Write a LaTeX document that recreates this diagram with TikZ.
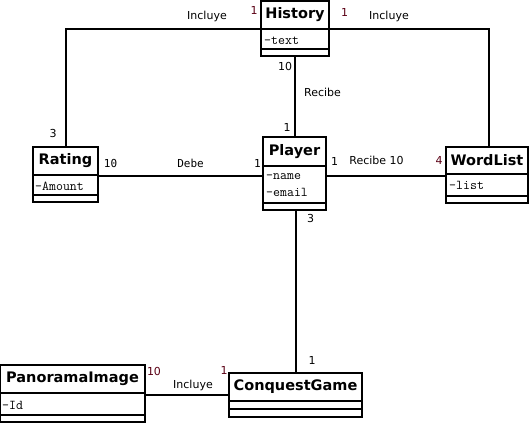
\documentclass[tikz,border=0pt]{standalone}
\usepackage{fontspec}
\setmainfont{DejaVu Sans}
\newfontfamily\titlefont{DejaVu Sans}
\newfontfamily\monofont{DejaVu Sans Mono}
\definecolor{mult}{RGB}{90,0,20}
\tikzset{
  cls/.style={draw, line width=2pt, inner sep=0pt, outer sep=0pt, anchor=north west},
  ttl/.style={font=\titlefont\bfseries\fontsize{14.5}{16}\selectfont, inner sep=0pt},
  attr/.style={font=\ttfamily\fontsize{13.5}{15}\selectfont, anchor=west, inner sep=0pt},
  lbl/.style={font=\fontsize{11}{12}\selectfont, inner sep=0pt},
  mlbl/.style={lbl, text=mult},
  dlbl/.style={font=\monofont\fontsize{11}{12}\selectfont, inner sep=0pt},
  conn/.style={line width=2pt},
  sep/.style={line width=2pt}
}
\begin{document}
\begin{tikzpicture}[x=1pt,y=-1pt]
\useasboundingbox (0,0) rectangle (532,424);

% class boxes
\node[cls, minimum width=68pt, minimum height=55pt] (history) at (261,1) {};
\node[cls, minimum width=65pt, minimum height=55pt] (rating) at (33,147) {};
\node[cls, minimum width=63pt, minimum height=73pt] (player) at (263,137) {};
\node[cls, minimum width=82pt, minimum height=56pt] (wordlist) at (446,147) {};
\node[cls, minimum width=145pt, minimum height=57pt] (panorama) at (0,365) {};
\node[cls, minimum width=133pt, minimum height=44pt] (conquest) at (229,373) {};

% separators
\draw[sep] ([yshift=-28pt]history.north west) -- ([yshift=-28pt]history.north east);
\draw[sep] ([yshift=-48pt]history.north west) -- ([yshift=-48pt]history.north east);
\draw[sep] ([yshift=-28pt]rating.north west) -- ([yshift=-28pt]rating.north east);
\draw[sep] ([yshift=-48pt]rating.north west) -- ([yshift=-48pt]rating.north east);
\draw[sep] ([yshift=-29pt]player.north west) -- ([yshift=-29pt]player.north east);
\draw[sep] ([yshift=-66pt]player.north west) -- ([yshift=-66pt]player.north east);
\draw[sep] ([yshift=-27pt]wordlist.north west) -- ([yshift=-27pt]wordlist.north east);
\draw[sep] ([yshift=-49pt]wordlist.north west) -- ([yshift=-49pt]wordlist.north east);
\draw[sep] ([yshift=-28pt]panorama.north west) -- ([yshift=-28pt]panorama.north east);
\draw[sep] ([yshift=-50pt]panorama.north west) -- ([yshift=-50pt]panorama.north east);
\draw[sep] ([yshift=-28pt]conquest.north west) -- ([yshift=-28pt]conquest.north east);
\draw[sep] ([yshift=-36pt]conquest.north west) -- ([yshift=-36pt]conquest.north east);

% titles
\node[ttl] (thistory) at (295,15) {History};
\node[ttl] (trating) at (65.5,161) {Rating};
\node[ttl] (tplayer) at (294.5,151.5) {Player};
\node[ttl] (twordlist) at (487,160.5) {WordList};
\node[ttl] (tpanorama) at (72.5,379) {PanoramaImage};
\node[ttl] (tconquest) at (295.5,387) {ConquestGame};

% attributes
\node[attr] (atext) at (264,41) {-text};
\node[attr] (aamount) at (35,186) {-Amount};
\node[attr] (aname) at (266,177) {-name};
\node[attr] (aemail) at (266,192.5) {-email};
\node[attr] (alist) at (449,185) {-list};
\node[attr] (aid) at (2,405) {-Id};

% connectors
\coordinate (hl) at (history.west |- 0,29);
\coordinate (hr) at (history.east |- 0,29);
\coordinate (rn) at (rating.north -| 66,0);
\coordinate (wn) at (wordlist.north -| 489,0);
\draw[conn] (hl) -| (rn);
\draw[conn] (hr) -| (wn);
\draw[conn] (history.south) -- (player.north -| history.south);
\draw[conn] (player.west |- 0,176) -- (rating.east |- 0,176);
\draw[conn] (player.east |- 0,176) -- (wordlist.west |- 0,176);
\coordinate (pb) at (player.south -| 296,0);
\draw[conn] (pb) -- (pb |- conquest.north);
\draw[conn] (panorama.east |- 0,395) -- (conquest.west |- 0,395);

% labels
\node[lbl] (l1) at (207,16.5) {Incluye};
\node[mlbl] (l2) at (254,10.5) {1};
\node[mlbl] (l3) at (344.5,12) {1};
\node[lbl] (l4) at (389,16.5) {Incluye};
\node[lbl] (l5) at (285,66) {10};
\node[lbl] (l6) at (322.5,92.5) {Recibe};
\node[lbl] (l7) at (287,127.5) {1};
\node[lbl] (l8) at (53,133.5) {3};
\node[dlbl] (l9) at (110.5,163) {10};
\node[dlbl] (l10) at (190.5,163) {Debe};
\node[dlbl] (l11) at (257.5,163) {1};
\node[lbl] (l12) at (334.5,161.5) {1};
\node[lbl] (l13) at (376.5,160) {Recibe 10};
\node[mlbl] (l14) at (439,160.5) {4};
\node[lbl] (l15) at (310.5,218) {3};
\node[lbl] (l16) at (312,360) {1};
\node[mlbl] (l17) at (154,371) {10};
\node[mlbl] (l18) at (224,370) {1};
\node[lbl] (l19) at (193,385) {Incluye};
\end{tikzpicture}
\end{document}
